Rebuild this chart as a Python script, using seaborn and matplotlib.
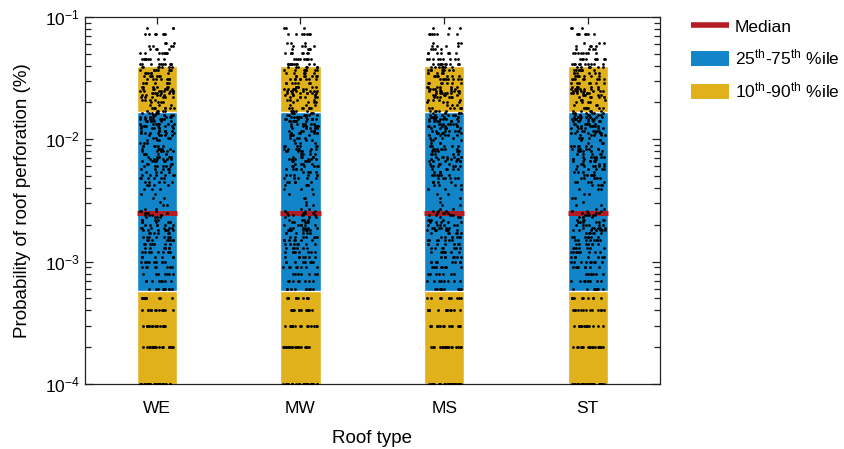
import numpy as np
import pandas as pd
import seaborn as sns
import matplotlib.pyplot as plt
from matplotlib.lines import Line2D
from matplotlib.patches import Patch
from matplotlib.ticker import LogLocator, NullFormatter

roof_types = ["WE", "MW", "MS", "ST"]

# percentile bands (probability in %)
p10 = [1.0e-4, 1.0e-4, 1.0e-4, 1.0e-4]
p25 = [5.8e-4, 5.8e-4, 5.8e-4, 5.8e-4]
p50 = [2.5e-3, 2.5e-3, 2.5e-3, 2.5e-3]
p75 = [1.67e-2, 1.67e-2, 1.67e-2, 1.67e-2]
p90 = [3.98e-2, 3.98e-2, 3.98e-2, 3.98e-2]

# simulated probabilities: value levels and how many dots sit on each level
levels = [1e-4, 2e-4, 3e-4, 4e-4, 5e-4, 6e-4, 7e-4, 8e-4, 9e-4, 1.0e-3,
          1.1e-3, 1.2e-3, 1.3e-3, 1.4e-3, 1.5e-3, 1.6e-3, 1.7e-3, 1.8e-3, 1.9e-3, 2.0e-3,
          2.1e-3, 2.2e-3, 2.3e-3, 2.4e-3, 2.5e-3, 2.6e-3, 2.7e-3, 2.9e-3, 3.1e-3, 3.3e-3,
          3.6e-3, 3.9e-3, 4.2e-3, 4.5e-3, 4.8e-3, 5.1e-3, 5.4e-3, 5.7e-3, 6.0e-3, 6.3e-3,
          6.6e-3, 6.9e-3, 7.2e-3, 7.6e-3, 8.0e-3, 8.4e-3, 8.8e-3, 9.3e-3, 9.8e-3, 1.03e-2,
          1.08e-2, 1.13e-2, 1.18e-2, 1.23e-2, 1.28e-2, 1.34e-2, 1.40e-2, 1.46e-2, 1.52e-2, 1.58e-2,
          1.64e-2, 1.70e-2, 1.80e-2, 1.90e-2, 2.00e-2, 2.10e-2, 2.20e-2, 2.30e-2, 2.40e-2, 2.50e-2,
          2.60e-2, 2.70e-2, 2.90e-2, 3.10e-2, 3.30e-2, 3.50e-2, 3.70e-2, 3.90e-2, 4.10e-2, 4.50e-2,
          5.10e-2, 5.50e-2, 5.80e-2, 6.10e-2, 7.30e-2, 8.10e-2]
counts = [28, 18, 15, 13, 10, 9, 8, 7, 8, 9,
          7, 8, 7, 7, 8, 7, 6, 7, 6, 6,
          5, 5, 4, 5, 4, 3, 2, 2, 1, 2,
          2, 3, 4, 5, 6, 6, 4, 5, 6, 4,
          6, 6, 6, 5, 6, 7, 6, 3, 3, 4,
          5, 6, 7, 6, 7, 7, 7, 8, 8, 7,
          6, 5, 7, 3, 4, 4, 6, 5, 7, 8,
          7, 6, 7, 8, 7, 6, 8, 7, 10, 9,
          8, 4, 4, 3, 7, 3]

blue = "#1185C8"
yellow = "#E1B11C"
red = "#B41B24"

np.random.seed(3)
rows = []
for rt in roof_types:
    for v in np.repeat(levels, counts):
        rows.append((rt, v))
df = pd.DataFrame(rows, columns=["roof", "prob"])

sns.set_style("ticks")
plt.rcParams["font.family"] = ["Liberation Sans", "DejaVu Sans"]
plt.rcParams["mathtext.fontset"] = "custom"
plt.rcParams["mathtext.rm"] = "Liberation Sans"
plt.rcParams["mathtext.it"] = "Liberation Sans:italic"
plt.rcParams["mathtext.bf"] = "Liberation Sans:bold"
plt.rcParams["mathtext.default"] = "regular"
plt.rcParams["text.color"] = "black"
plt.rcParams["axes.labelcolor"] = "black"
plt.rcParams["xtick.labelcolor"] = "black"
plt.rcParams["ytick.labelcolor"] = "black"

fig = plt.figure(figsize=(8.45, 4.49), dpi=100)
ax = fig.add_axes([0.1006, 0.1448, 0.6800, 0.8174])
ax.set_yscale("log")

w = 0.28
x = np.arange(len(roof_types))
ax.bar(x, np.array(p90) - np.array(p10), bottom=p10, width=w, color=yellow, zorder=1)
ax.bar(x, np.array(p75) - np.array(p25), bottom=p25, width=w, color=blue, zorder=2)
med = ax.hlines(p50, x - w / 2, x + w / 2, color=red, lw=3.6, zorder=3)
med.set_capstyle("butt")

sns.stripplot(data=df, x="roof", y="prob", order=roof_types, jitter=0.12,
              color="black", size=2.0, linewidth=0, ax=ax, zorder=4)

ax.set_xlim(-0.5, 3.5)
ax.set_ylim(1e-4, 1e-1)
ax.yaxis.set_minor_locator(LogLocator(base=10, subs=np.arange(2, 10), numticks=100))
ax.yaxis.set_minor_formatter(NullFormatter())
ax.set_xlabel("Roof type", fontsize=13.5, labelpad=10)
ax.set_ylabel("Probability of roof perforation (%)", fontsize=13.5, labelpad=10)
ax.tick_params(which="both", direction="in", top=True, right=True, labelsize=12.5, color="#222222")
ax.tick_params(axis="y", which="major", length=5.5, width=0.9)
ax.tick_params(axis="y", which="minor", left=True, right=True, length=4, width=0.9)
ax.tick_params(axis="x", which="major", length=5, width=0.9, pad=12)
ax.tick_params(axis="x", which="minor", bottom=False, top=False)
for s in ax.spines.values():
    s.set_linewidth(0.9)
    s.set_color("#222222")

handles = [Line2D([0], [0], color=red, lw=4, solid_capstyle="butt"),
           Patch(facecolor=blue, edgecolor="none"),
           Patch(facecolor=yellow, edgecolor="none")]
labels = ["Median", "25$^{th}$-75$^{th}$ %ile", "10$^{th}$-90$^{th}$ %ile"]
ax.legend(handles, labels, loc="upper left", bbox_to_anchor=(1.043, 1.015), frameon=False,
          fontsize=12.5, handlelength=2.2, handleheight=0.9, labelspacing=0.75,
          handletextpad=0.3, borderaxespad=0)

fig.savefig("out.png", dpi=100)
